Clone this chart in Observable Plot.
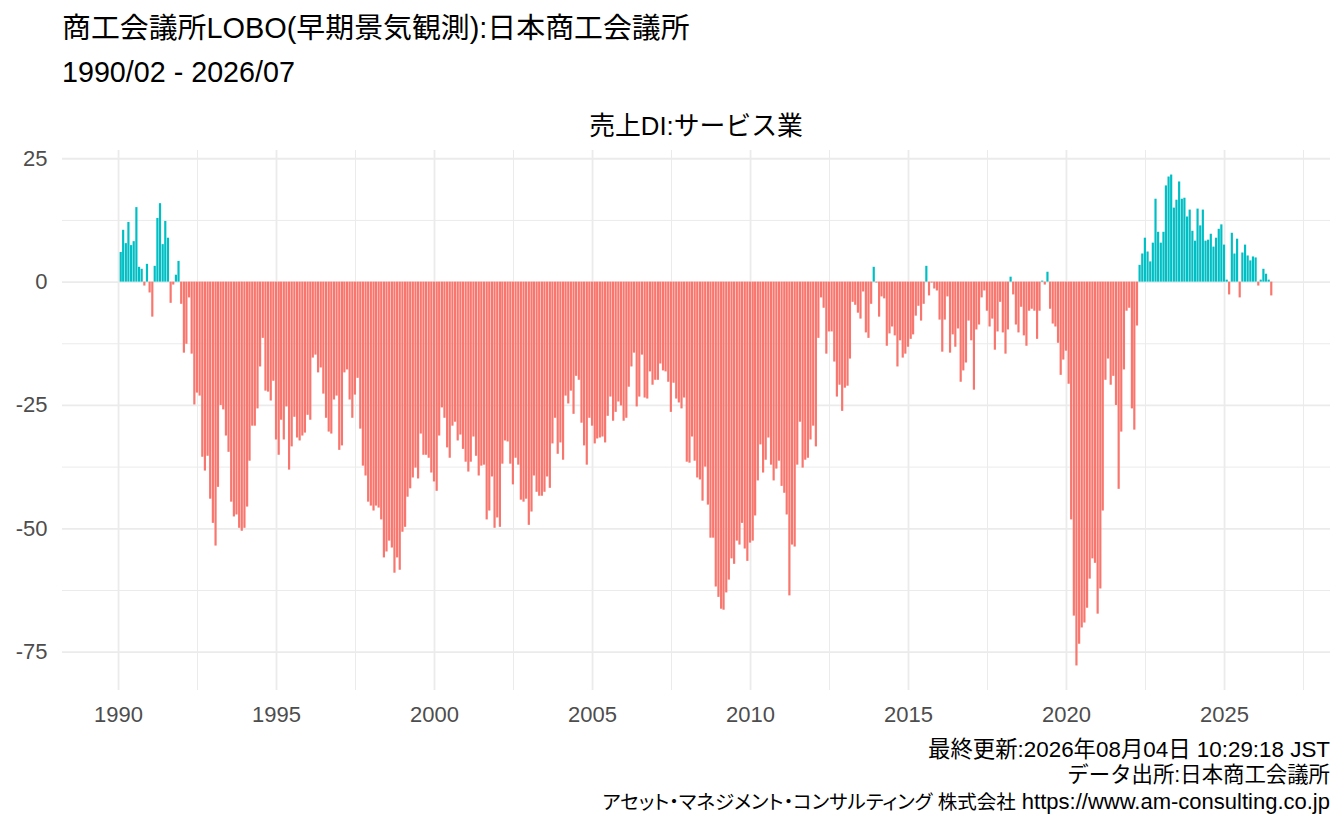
<!DOCTYPE html>
<html>
<head>
<meta charset="utf-8">
<script src="https://cdn.jsdelivr.net/npm/d3@7"></script>
<script src="https://cdn.jsdelivr.net/npm/@observablehq/plot@0.6"></script>
<style>
  body { margin: 0; background: #fff; }
  #wrap { position: relative; width: 1344px; height: 830px; font-family: "Liberation Sans", "Noto Sans CJK JP", sans-serif; }
  .t { position: absolute; white-space: nowrap; line-height: 1; color: #000; }
  #chart { position: absolute; left: 0; top: 140px; }
  .palt { font-feature-settings: "palt"; font-size: 19.5px; }
</style>
</head>
<body>
<div id="wrap">
  <div class="t" id="title" style="left:62px; top:14px; font-size:28.9px;"></div>
  <div class="t" id="period" style="left:62px; top:58px; font-size:28.7px;"></div>
  <div class="t" id="panelTitle" style="left:62px; width:1268px; text-align:center; top:114px; font-size:25.8px;"></div>
  <div id="chart"></div>
  <div class="t" id="foot0" style="right:14px; top:739px; font-size:22.4px;"></div>
  <div class="t" id="foot1" style="right:14px; top:765px; font-size:21.4px;"></div>
  <div class="t" id="foot2" style="right:14px; top:791px; font-size:22px;"><span class="palt" id="foot2a"></span> <span id="foot2b"></span></div>
</div>
<script>
// ---- data (monthly, first observation 1990/02) ----
const startYear = 1990, startMonth = 2;
const di1990s = [
  6.0, 10.5, 7.8, 12.1, 7.4, 8.2, 15.1, 3.0, 2.6, -0.8, 3.6,
  -2.2, -7.1, 3.2, 12.9, 15.9, 7.6, 12.3, 8.9, -4.3, -0.6, 1.4, 4.2,
  -4.5, -14.4, -12.6, -3.2, -14.6, -24.9, -22.5, -23.1, -35.5, -38.3, -35.3, -44.0,
  -48.9, -53.5, -41.6, -25.0, -25.9, -31.2, -34.5, -44.6, -47.6, -47.2, -49.9, -50.5,
  -49.9, -45.6, -36.3, -29.2, -29.2, -25.7, -17.2, -11.4, -22.1, -22.3, -24.1, -20.1,
  -32.0, -35.1, -28.0, -32.0, -25.3, -38.1, -33.4, -27.4, -31.6, -32.2, -31.2, -30.6,
  -27.0, -28.0, -15.4, -14.8, -18.4, -17.4, -22.7, -27.6, -30.4, -30.8, -23.9, -23.1,
  -34.1, -33.2, -18.4, -17.8, -23.9, -27.6, -22.9, -19.5, -29.8, -37.3, -39.3, -44.6,
  -45.4, -46.4, -45.4, -45.8, -48.2, -55.9, -54.7, -52.5, -53.9, -59.0, -55.9, -58.4,
  -50.7, -49.7, -43.6, -41.9, -39.7, -37.7, -39.9, -30.8, -35.1, -35.1, -35.7, -38.7
];
const di2000s = [
  -40.5, -42.4, -31.2, -25.5, -27.6, -33.6, -35.7, -29.2, -28.4, -32.2, -31.0, -33.9,
  -36.5, -38.5, -36.5, -31.4, -35.3, -39.3, -37.3, -37.1, -48.2, -46.4, -39.5, -49.9,
  -47.8, -49.7, -36.9, -32.2, -32.4, -36.9, -41.1, -35.7, -37.1, -44.2, -44.6, -44.0,
  -49.3, -46.6, -39.3, -42.6, -43.4, -43.4, -42.6, -39.5, -41.8, -32.8, -27.6, -34.9,
  -32.6, -36.1, -23.1, -24.7, -22.1, -26.8, -19.1, -19.9, -28.6, -33.2, -37.1, -27.6,
  -29.2, -32.8, -31.8, -31.6, -31.4, -32.6, -27.2, -23.3, -28.2, -26.4, -24.3, -25.1,
  -28.2, -27.6, -21.3, -17.2, -14.4, -25.3, -23.3, -14.8, -23.5, -23.7, -18.2, -20.9,
  -19.9, -19.9, -16.6, -18.0, -18.2, -20.3, -26.4, -20.5, -23.7, -24.5, -25.7, -23.5,
  -36.5, -36.7, -31.4, -36.3, -39.7, -40.1, -44.4, -37.5, -45.2, -51.9, -51.9, -61.8,
  -63.9, -66.3, -66.5, -63.0, -60.4, -56.1, -57.2, -52.5, -53.3, -48.9, -54.1, -56.6
];
const di2010s = [
  -52.9, -52.5, -47.4, -40.3, -33.0, -38.7, -36.1, -31.6, -37.1, -40.3, -37.9, -36.3,
  -41.4, -42.8, -47.2, -63.6, -53.3, -53.7, -37.1, -28.4, -37.7, -36.1, -35.7, -32.0,
  -29.2, -33.4, -11.4, -3.2, -5.3, -14.6, -10.1, -10.1, -16.2, -23.3, -20.9, -26.2,
  -21.5, -21.1, -15.6, -4.1, -4.7, -6.3, -7.5, -2.0, -10.3, -11.4, -4.5, 3.0,
  -0.2, -7.1, -3.0, -3.4, -13.0, -10.5, -9.1, -10.9, -17.2, -11.9, -15.4, -14.6,
  -13.2, -11.6, -10.7, -6.9, -4.9, -7.9, -4.5, 3.2, -2.8, -0.2, -1.4, -1.8,
  -7.7, -14.2, -7.7, -3.0, -14.4, -10.7, -13.2, -9.5, -20.3, -18.0, -16.4, -7.9,
  -11.9, -21.9, -9.7, -8.7, -3.2, -1.8, -5.9, -9.1, -7.5, -13.8, -10.1, -4.1,
  -10.3, -14.6, -9.7, 1.0, -2.6, -8.7, -10.3, -5.1, -10.9, -13.0, -5.9, -5.5,
  -5.9, -11.6, -5.9, 0.2, -0.6, 2.0, -5.5, -8.5, -9.1, -12.4, -18.9, -15.8
];
const di2020s = [
  -14.0, -20.7, -48.2, -67.7, -77.8, -73.4, -70.1, -69.1, -66.1, -60.2, -56.1, -57.0,
  -67.3, -62.2, -46.4, -19.9, -15.6, -20.9, -19.1, -25.0, -42.0, -30.4, -17.8, -5.9,
  -5.3, -25.7, -30.0, -8.9, 3.4, 5.7, 8.9, 6.1, 4.1, 7.9, 16.8, 10.1,
  7.9, 10.1, 19.5, 21.3, 21.7, 15.0, 16.6, 20.3, 16.8, 17.0, 13.2, 14.6,
  10.3, 8.3, 14.8, 11.4, 14.6, 8.3, 8.5, 9.7, 7.1, 8.9, 10.7, 11.6,
  7.5, 0.4, -2.6, 9.9, 5.7, 8.7, -3.2, 5.9, 7.5, 5.3, 4.3, 5.1,
  4.9, -0.8, 0.4, 2.6, 1.6, 0.4, -2.8
];

const yTicks = [-75, -50, -25, 0, 25];
const yMinorTicks = [-62.5, -37.5, -12.5, 12.5];
const xTickYears = [1990, 1995, 2000, 2005, 2010, 2015, 2020, 2025];

const titleText = "商工会議所LOBO(早期景気観測):日本商工会議所";
const periodText = "1990/02 - 2026/07";
const panelTitleText = "売上DI:サービス業";
const footerUpdated = "最終更新:2026年08月04日 10:29:18 JST";
const footerSource = "データ出所:日本商工会議所";
const footerCompany = "アセット・マネジメント・コンサルティング 株式会社";
const footerUrl = "https://www.am-consulting.co.jp";

// ---- build table ----
const values = [...di1990s, ...di2000s, ...di2010s, ...di2020s];
const DAY = 864e5;
const halfW = 0.9 * 28 * DAY / 2;
const data = values.map((v, i) => {
  const date = new Date(Date.UTC(startYear, startMonth - 1 + i, 1));
  return { date, x1: new Date(+date - halfW), x2: new Date(+date + halfW), v };
});

const xmin = d3.min(data, d => +d.x1), xmax = d3.max(data, d => +d.x2);
const xpad = (xmax - xmin) * 0.05;
const xDomain = [new Date(xmin - xpad), new Date(xmax + xpad)];
const vmin = Math.min(0, d3.min(values)), vmax = Math.max(0, d3.max(values));
const ypad = (vmax - vmin) * 0.05;
const yDomain = [vmin - ypad, vmax + ypad];

const xMajor = xTickYears.map(y => new Date(Date.UTC(y, 0, 1)));
const ext = [new Date(Date.UTC(xTickYears[0] - 5, 0, 1)), ...xMajor,
             new Date(Date.UTC(xTickYears[xTickYears.length - 1] + 5, 0, 1))];
const xMinor = d3.pairs(ext).map(([a, b]) => new Date((+a + +b) / 2))
  .filter(d => d >= xDomain[0] && d <= xDomain[1]);

document.getElementById("title").textContent = titleText;
document.getElementById("period").textContent = periodText;
document.getElementById("panelTitle").textContent = panelTitleText;
document.getElementById("foot0").textContent = footerUpdated;
document.getElementById("foot1").textContent = footerSource;
document.getElementById("foot2a").textContent = footerCompany;
document.getElementById("foot2b").textContent = footerUrl;

const grid = "#EBEBEB";
const chart = Plot.plot({
  width: 1344,
  height: 600,
  marginTop: 10,
  marginBottom: 50,
  marginLeft: 62,
  marginRight: 14,
  x: { type: "utc", domain: xDomain },
  y: { domain: yDomain },
  color: { type: "identity" },
  style: { fontFamily: '"Liberation Sans", "Noto Sans CJK JP", sans-serif', fontSize: "22px", background: "white" },
  marks: [
    Plot.gridY(yMinorTicks, { stroke: grid, strokeOpacity: 1, strokeWidth: 1 }),
    Plot.gridX(xMinor, { stroke: grid, strokeOpacity: 1, strokeWidth: 1 }),
    Plot.gridY(yTicks, { stroke: grid, strokeOpacity: 1, strokeWidth: 1.8 }),
    Plot.gridX(xMajor, { stroke: grid, strokeOpacity: 1, strokeWidth: 1.8 }),
    Plot.rect(data, {
      x1: "x1", x2: "x2", y1: 0, y2: "v",
      fill: d => d.v >= 0 ? "#00BFC4" : "#F8766D"
    }),
    Plot.axisY(yTicks, { tickSize: 0, tickPadding: 15, label: null, tickFormat: d => String(d), fill: "#4D4D4D" }),
    Plot.axisX(xMajor, { tickSize: 0, tickPadding: 16, label: null, tickFormat: d => String(d.getUTCFullYear()), fill: "#4D4D4D" })
  ]
});
document.getElementById("chart").appendChild(chart);
</script>
</body>
</html>
